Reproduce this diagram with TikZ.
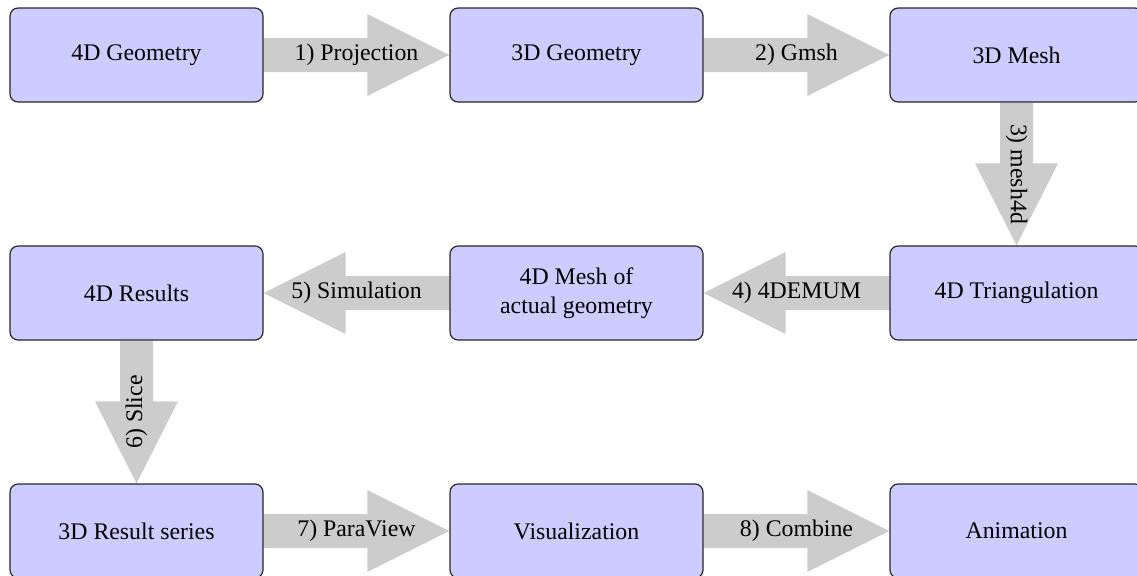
\documentclass[tikz,border=0pt]{standalone}
\usepackage{fontspec}
\setmainfont{Liberation Serif}
\usetikzlibrary{calc,backgrounds}
\newcommand\flowright[3]{%
  \begin{pgfonlayer}{background}
  \fill[flow] ($(#1.east)+(0,-17)$) -- ($(#2.west)+(-82,-17)$) -- ($(#2.west)+(-82,-41)$) -- (#2.west)
    -- ($(#2.west)+(-82,41)$) -- ($(#2.west)+(-82,17)$) -- ($(#1.east)+(0,17)$) -- cycle;
  \end{pgfonlayer}
  \node[lbl] at ($(#1.east)!0.5!(#2.west)$) {#3};}
\newcommand\flowleft[3]{%
  \begin{pgfonlayer}{background}
  \fill[flow] ($(#1.west)+(0,-17)$) -- ($(#2.east)+(82,-17)$) -- ($(#2.east)+(82,-41)$) -- (#2.east)
    -- ($(#2.east)+(82,41)$) -- ($(#2.east)+(82,17)$) -- ($(#1.west)+(0,17)$) -- cycle;
  \end{pgfonlayer}
  \node[lbl] at ($(#1.west)!0.5!(#2.east)$) {#3};}
\newcommand\flowdown[4]{%
  \begin{pgfonlayer}{background}
  \fill[flow] ($(#1.south)+(-16.5,0)$) -- ($(#2.north)+(-16.5,-82)$) -- ($(#2.north)+(-41.5,-82)$) -- (#2.north)
    -- ($(#2.north)+(41.5,-82)$) -- ($(#2.north)+(16.5,-82)$) -- ($(#1.south)+(16.5,0)$) -- cycle;
  \end{pgfonlayer}
  \node[lbl,rotate=#4] at ($(#1.south)!0.5!(#2.north)$) {#3};}
\begin{document}
\begin{tikzpicture}[x=0.42pt,y=-0.42pt,
  box/.style={draw=black!85, line width=0.5pt, fill=blue!20, rounded corners=3.4pt,
    minimum width=106.26pt, minimum height=39.48pt, inner sep=2pt, align=center},
  flow/.style={fill=black!20},
  lbl/.style={inner sep=0pt}]
\useasboundingbox (0,0) rectangle (1137,575);
\node[box] (g4) at (136.5,55) {4D Geometry};
\node[box] (g3) at (576.5,55) {3D Geometry};
\node[box] (m3) at (1016.5,55) {3D Mesh};
\node[box] (res4) at (136.5,293) {4D Results};
\node[box] (mesh4) at (576.5,293) {4D Mesh of\\actual geometry};
\node[box] (tri4) at (1016.5,293) {4D Triangulation};
\node[box] (res3) at (136.5,531) {3D Result series};
\node[box] (vis) at (576.5,531) {Visualization};
\node[box] (anim) at (1016.5,531) {Animation};
\flowright{g4}{g3}{1) Projection}
\flowright{g3}{m3}{2) Gmsh}
\flowdown{m3}{tri4}{3) mesh4d}{-90}
\flowleft{tri4}{mesh4}{4) 4DEMUM}
\flowleft{mesh4}{res4}{5) Simulation}
\flowdown{res4}{res3}{6) Slice}{90}
\flowright{res3}{vis}{7) ParaView}
\flowright{vis}{anim}{8) Combine}
\end{tikzpicture}
\end{document}
